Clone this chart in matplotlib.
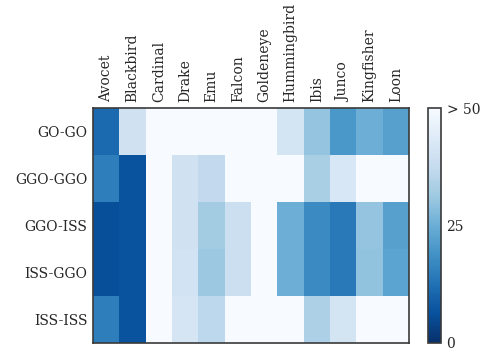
import matplotlib
matplotlib.use("Agg")
import matplotlib.pyplot as plt
import numpy as np

rows = ["GO-GO", "GGO-GGO", "GGO-ISS", "ISS-GGO", "ISS-ISS"]
birds = ["Avocet", "Blackbird", "Cardinal", "Drake", "Emu", "Falcon",
         "Goldeneye", "Hummingbird", "Ibis", "Junco", "Kingfisher", "Loon"]

go_go     = [11, 40, 60, 60, 60, 60, 60, 41, 30, 20, 25, 22]
ggo_ggo   = [15, 6.5, 60, 40, 37, 60, 60, 60, 33, 42, 60, 60]
ggo_iss   = [6, 6.5, 60, 40, 32, 39, 60, 25, 17.5, 14, 30, 22]
iss_ggo   = [6, 6.5, 60, 40.5, 31, 39, 60, 25, 17.5, 14, 29.5, 22.5]
iss_iss   = [15, 6.5, 60, 41.5, 36, 60, 60, 60, 33.5, 41, 60, 60]

cbar_ticks = [0, 25, 50]
cbar_labels = ["0", "25", "> 50"]

plt.rcParams["font.family"] = ["DejaVu Serif"]
plt.rcParams["font.size"] = 10

data = np.array([go_go, ggo_ggo, ggo_iss, iss_ggo, iss_iss])

fig = plt.figure(figsize=(4.88, 3.52), dpi=100)
ax = fig.add_axes([93/488, 1 - 343/352, 316/488, 235/352])
cax = fig.add_axes([428/488, 1 - 343/352, 13/488, 235/352])

mesh = ax.pcolormesh(data, cmap="Blues_r", vmin=0, vmax=50)
ax.set_xlim(0, len(birds))
ax.set_ylim(len(rows), 0)
ax.set_xticks(np.arange(len(birds)) + 0.5)
ax.set_xticklabels(birds, rotation=90, color="#262626")
ax.set_yticks(np.arange(len(rows)) + 0.5)
ax.set_yticklabels(rows, color="#262626")
ax.xaxis.tick_top()
ax.tick_params(length=0, pad=4)
for s in ax.spines.values():
    s.set_color("#3a3a3a")
    s.set_linewidth(1.2)

cb = fig.colorbar(mesh, cax=cax)
cb.set_ticks(cbar_ticks)
cb.set_ticklabels(cbar_labels)
cax.tick_params(length=0, pad=4, colors="#262626")
cb.outline.set_edgecolor("#3a3a3a")
cb.outline.set_linewidth(1.2)

fig.savefig("out.png", dpi=100)
